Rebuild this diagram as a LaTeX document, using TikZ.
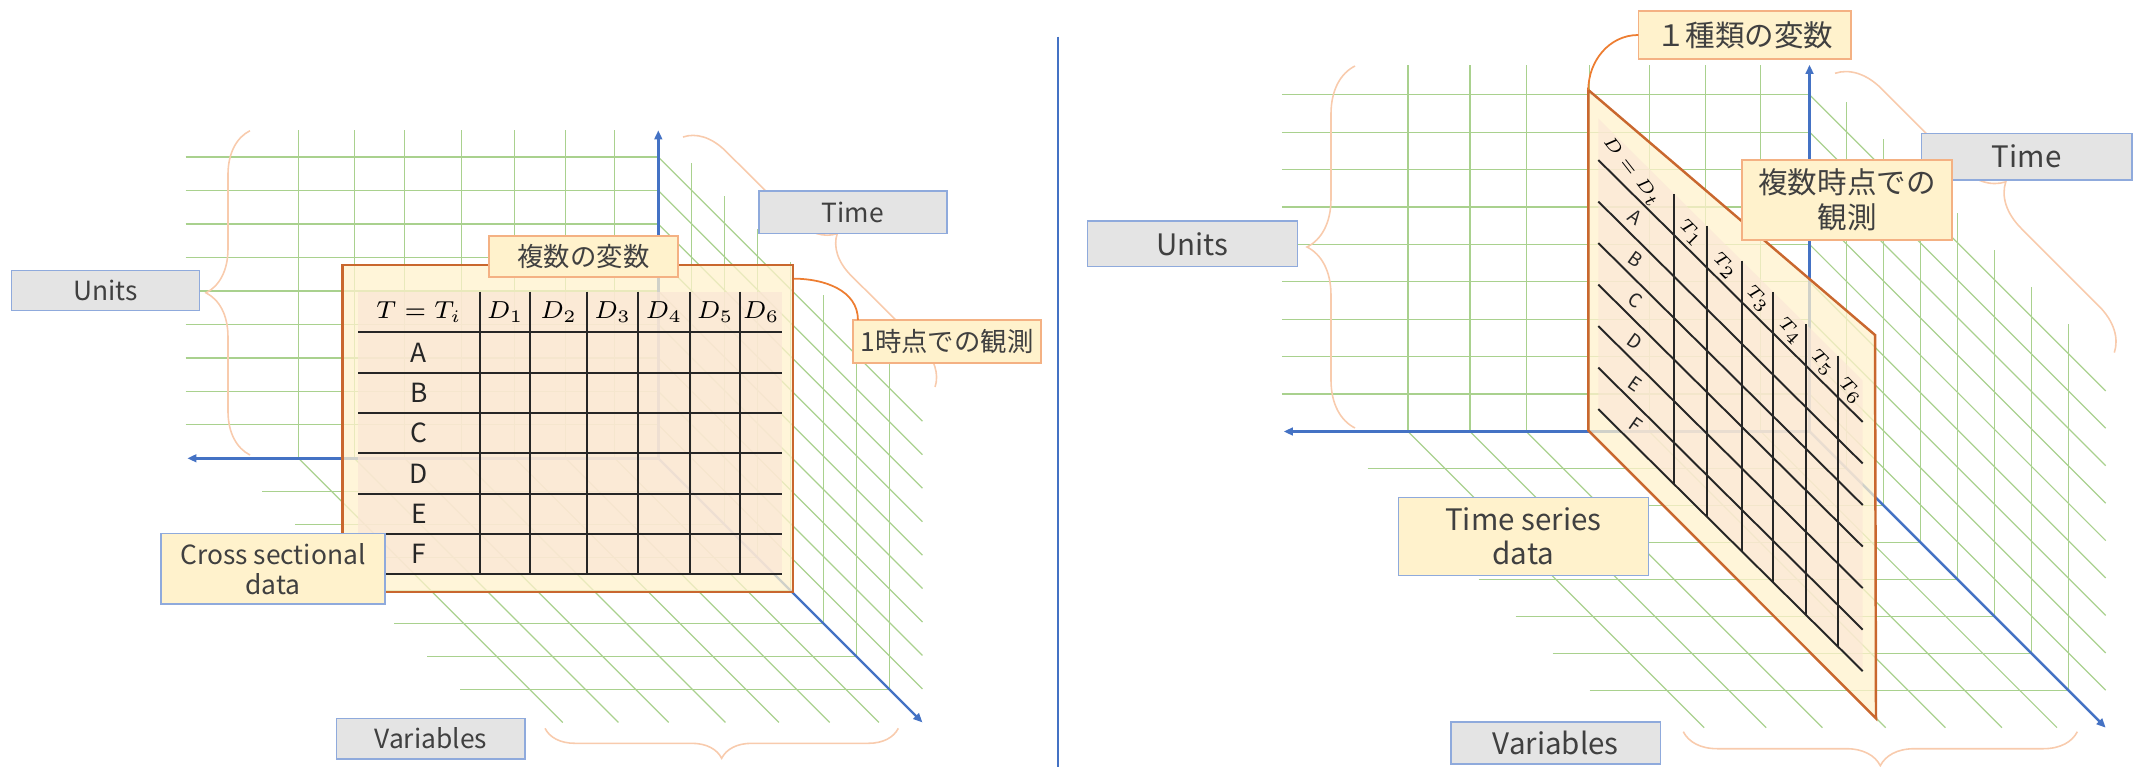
\documentclass[tikz,border=0pt]{standalone}
\usepackage[no-math]{fontspec}
\setmainfont{Noto Sans CJK JP}
\usepackage{xcolor}
\usetikzlibrary{arrows.meta,decorations.pathreplacing}

\definecolor{gridgreen}{HTML}{A9D18E}
\definecolor{axisblue}{HTML}{4472C4}
\definecolor{boxblue}{HTML}{8FAADC}
\definecolor{boxgray}{HTML}{E4E4E4}
\definecolor{noteyellow}{HTML}{FFF2CC}
\definecolor{noteorange}{HTML}{F4B183}
\definecolor{bracepeach}{HTML}{F8CBAD}
\definecolor{tablepeach}{HTML}{FBE5D6}
\definecolor{sheetedge}{HTML}{C9672E}
\definecolor{calloutorange}{HTML}{ED7D31}
\definecolor{labeltext}{HTML}{404040}

\newcommand{\leftfont}{\fontsize{7.5}{8.6}\selectfont}
\newcommand{\rightfont}{\fontsize{8.4}{9.8}\selectfont}
\newcommand{\cellfont}{\fontsize{7.3}{8.5}\selectfont}
\newcommand{\skewfont}{\fontsize{5.4}{6}\selectfont}

\tikzset{
  gridline/.style={gridgreen, line width=0.35pt},
  axisline/.style={axisblue, line width=0.7pt, -{Triangle[length=2.6pt,width=2.2pt]}},
  bracket/.style={bracepeach, line width=0.45pt, decorate, decoration={brace, amplitude=#1}},
  graybox/.style={draw=boxblue, fill=boxgray, line width=0.45pt, text=labeltext, inner sep=0pt, outer sep=0pt},
  notebox/.style={draw=noteorange, fill=noteyellow, line width=0.45pt, text=labeltext, inner sep=0pt, outer sep=0pt, align=center},
  bluenote/.style={draw=boxblue, fill=noteyellow, line width=0.45pt, text=labeltext, inner sep=0pt, outer sep=0pt, align=center},
  sheet/.style={draw=sheetedge, fill=noteyellow, fill opacity=0.75, line width=0.7pt},
  noteline/.style={calloutorange, line width=0.5pt},
  tableline/.style={black!85, line width=0.55pt},
  skewlabel/.style={font=\skewfont, inner sep=0.5pt},
}

% green grid on three walls, coordinates (units, up, depth)
\newcommand{\cubegrid}{%
  % back wall
  \foreach \ulev in {1,...,9}
    \draw[gridline] (14.1,\ulev,0) -- (0,\ulev,0);
  \foreach \llev in {1.3,2.77,4.28,5.88,7.57,9.07,10.73}
    \draw[gridline] (\llev,0,0) -- (\llev,9.8,0);
  % side wall
  \foreach \ulev in {1,...,9}
    \draw[gridline] (0,\ulev,0) -- (0,\ulev,8);
  \foreach \tlev in {1,...,7}
    \draw[gridline] (0,0,\tlev) -- (0,9.8,\tlev);
  % floor
  \foreach \tlev in {1,...,7}
    \draw[gridline] (12.8,0,\tlev) -- (0,0,\tlev);
  \foreach \llev in {1.3,2.77,4.28,5.88,7.57,9.07,10.73}
    \draw[gridline] (\llev,0,0) -- (\llev,0,8);
  % axes
  \coordinate (o) at (0,0,0);
  \coordinate (unitsend) at (14.05,0,0);
  \coordinate (upend) at (0,9.8,0);
  \coordinate (depthend) at (0,0,8);
  \draw[axisline] (o) -- (unitsend);
  \draw[axisline] (o) -- (upend);
  \draw[axisline] (o) -- (depthend);
}

\begin{document}
\begin{tikzpicture}[x=0.01cm, y=-0.01cm]
\useasboundingbox (0,0) rectangle (2136,767);

% ---------- left: cross sectional ----------
\begin{scope}[shift={(658.3,458.3)}, x={(-0.335cm,0cm)}, y={(0cm,0.3345cm)}, z={(0.33cm,-0.33cm)}]
  \cubegrid
\end{scope}

\draw[bracket=0.44cm] (250,455) -- (250,130.7);
\draw[bracket=0.4cm] (683,137) -- (936,388);
\draw[bracket=0.3cm] (898.3,728.3) -- (545,728.3);

\node[sheet, minimum width=4.5cm, minimum height=3.267cm, inner sep=0pt] (crossplane) at (567.7,428.35) {};
\fill[tablepeach, fill opacity=0.7] (358,291.5) rectangle (782,574.3);
\foreach \y in {332.3,372.7,413,453.3,494,534.3,574.3}
  \draw[tableline] (358,\y) -- (782,\y);
\foreach \x in {480,530.3,587.3,638,690,740.3}
  \draw[tableline] (\x,291.5) -- (\x,574.3);
\node[font=\cellfont] (headL) at (419,311.9) {$T = T_i$};
\foreach \x/\col in {505.2/1,558.8/2,612.7/3,664/4,715.2/5,761.2/6}
  \node[font=\cellfont] (colL\col) at (\x,311.9) {$D_{\col}$};
\foreach \y/\lbl in {352.5/A,392.9/B,433.2/C,473.7/D,514.2/E,554.3/F}
  \node[font=\leftfont, text=black!85] (rowL\lbl) at (419,\y) {\lbl};

\node[graybox, font=\leftfont, minimum width=1.88cm, minimum height=0.4cm] (unitsL) at (105.5,290.5) {Units};
\node[graybox, font=\leftfont, minimum width=1.877cm, minimum height=0.423cm] (timeL) at (852.9,212.2) {Time};
\node[graybox, font=\leftfont, minimum width=1.884cm, minimum height=0.402cm] (varL) at (430.8,738.6) {Variables};
\node[bluenote, font=\leftfont, minimum width=2.24cm, minimum height=0.705cm] (crossL) at (273,568.8) {Cross sectional\\data};
\node[notebox, font=\leftfont, minimum width=1.89cm, minimum height=0.407cm] (multivarL) at (583.5,256.4) {複数の変数};
\node[notebox, font=\leftfont, minimum width=1.88cm, minimum height=0.43cm] (onetimeL) at (947,341.5) {1時点での観測};
\draw[noteline] ([yshift=-0.15cm]crossplane.north east) to[out=0,in=90] ([xshift=0.05cm]onetimeL.north west);

% separator
\draw[axisblue, line width=0.7pt] (1058,36.7) -- (1058,767);

% ---------- right: time series ----------
\begin{scope}[shift={(1809.5,431.5)}, x={(-0.374cm,0cm)}, y={(0cm,0.374cm)}, z={(0.37cm,-0.37cm)}]
  \cubegrid
\end{scope}

\draw[bracket=0.48cm] (1355,428) -- (1355,66);
\draw[bracket=0.44cm] (1835,73.3) -- (2115,353.3);
\draw[bracket=0.34cm] (2077.3,731.7) -- (1683.3,731.7);

\coordinate (sheetTL) at (1588.3,90);
\coordinate (sheetBL) at (1588.3,430.5);
\coordinate (sheetBR) at (1876,718.3);
\coordinate (sheetTR) at (1875,335);
\filldraw[sheet] (sheetTL) -- (sheetBL) -- (sheetBR) -- (sheetTR) -- cycle;

\begin{scope}[shift={(1598.3,118.5)}, x={(0.01cm,-0.0099cm)}, y={(0cm,-0.415cm)}]
  \fill[tablepeach, fill opacity=0.6] (0,0) -- (264.4,0) -- (264.4,7) -- (0,7) -- cycle;
  \foreach \ulev in {1,...,7}
    \draw[tableline] (0,\ulev) -- (264.4,\ulev);
  \foreach \x in {76,108.4,143.4,175,207.7,239.4}
    \draw[tableline] (\x,0) -- (\x,7);
  \node[skewlabel, rotate=-52] (headR) at (33,0.5) {$D = D_t$};
  \foreach \x/\col in {92.2/1,125.9/2,159.2/3,191.4/4,223.6/5,251.9/6}
    \node[skewlabel, rotate=-45] (colR\col) at (\x,0.55) {$T_{\col}$};
  \foreach \pos/\lbl in {1.5/A,2.5/B,3.5/C,4.5/D,5.5/E,6.5/F}
    \node[skewlabel, text=black!85, rotate=-35] (rowR\lbl) at (37,\pos) {\lbl};
\end{scope}

\node[graybox, font=\rightfont, minimum width=2.1cm, minimum height=0.456cm] (unitsR) at (1192.5,243.8) {Units};
\node[graybox, font=\rightfont, minimum width=2.1cm, minimum height=0.467cm] (timeR) at (2026.7,156.7) {Time};
\node[graybox, font=\rightfont, minimum width=2.095cm, minimum height=0.42cm] (varR) at (1555.8,742.8) {Variables};
\node[bluenote, font=\rightfont, minimum width=2.498cm, minimum height=0.78cm] (seriesR) at (1523.3,536.5) {Time series\\data};
\node[notebox, font=\rightfont, minimum width=2.127cm, minimum height=0.48cm] (onevarR) at (1744.7,35) {１種類の変数};
\node[notebox, font=\rightfont, minimum width=2.094cm, minimum height=0.8cm] (multitimeR) at (1847,200) {複数時点での\\観測};
\draw[noteline] (onevarR.west) to[out=180,in=90] (sheetTL);
\end{tikzpicture}
\end{document}
